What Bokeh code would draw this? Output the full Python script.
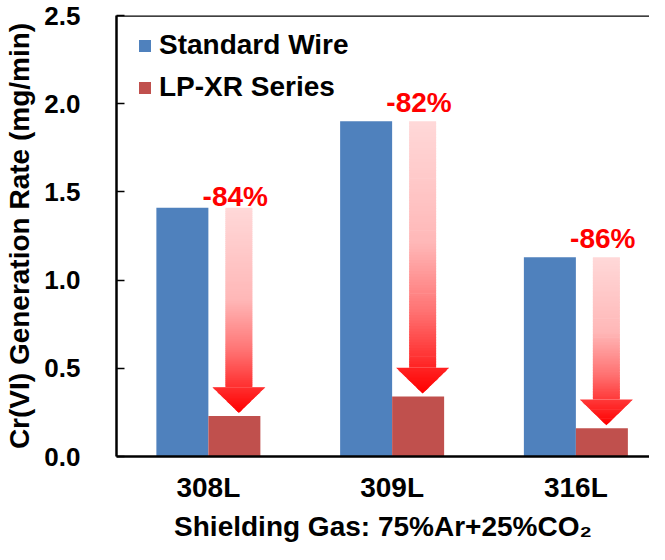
import numpy as np
from bokeh.plotting import figure
from bokeh.models import Range1d, FixedTicker, Span, PrintfTickFormatter
from bokeh.core.properties import value
from bokeh.embed import file_html
from bokeh.resources import INLINE

# ---- data ----
categories = ["308L", "309L", "316L"]
standard_wire = [1.41, 1.90, 1.13]
lp_xr_series = [0.23, 0.34, 0.16]
reduction_labels = ["-84%", "-82%", "-86%"]
y_ticks = [0.0, 0.5, 1.0, 1.5, 2.0, 2.5]
series_names = ["Standard Wire", "LP-XR Series"]
x_axis_title = "Shielding Gas: 75%Ar+25%CO\u2082"
y_axis_title = "Cr(VI) Generation Rate (mg/min)"

# ---- style ----
FONT = "Liberation Sans"
BLUE = "#4F81BD"
RED = "#C0504D"
W, H = 649, 544
BORDER_L, BORDER_T, BORDER_B = 116, 15, 84
FRAME_W = W - BORDER_L
FRAME_H = H - BORDER_T - BORDER_B
PX_X = 183.75                  # px per category
PX_Y = FRAME_H / 2.5           # px per y unit
BAR_W = 52 / PX_X
SHAFT_W = 27 / PX_X
HEAD_W = 53 / PX_X
HEAD_H = 26 / PX_Y
TIP_GAP = 3 / PX_Y
ARROW_DX = 4.5 / PX_X
label_lift_px = [11, 19, 19]

p = figure(width=W, height=H,
           x_range=Range1d(0, FRAME_W / PX_X), y_range=Range1d(0, 2.5),
           output_backend="svg", toolbar_location=None,
           min_border_left=BORDER_L, min_border_right=0,
           min_border_top=BORDER_T, min_border_bottom=BORDER_B)
p.outline_line_color = None
p.xgrid.visible = False
p.ygrid.visible = False
p.background_fill_color = "white"
p.border_fill_color = "white"

xc = np.arange(len(categories)) + 0.5
std = np.array(standard_wire)
lp = np.array(lp_xr_series)

p.vbar(x=xc - BAR_W / 2, top=std, width=BAR_W, bottom=0,
       fill_color=BLUE, line_color=None, legend_label=series_names[0])
p.vbar(x=xc + BAR_W / 2, top=lp, width=BAR_W, bottom=0,
       fill_color=RED, line_color=None, legend_label=series_names[1])

# ---- gradient arrows (sliced) ----
stops_t = [0.0, 0.45, 0.70, 0.90, 1.0]
stops_w = [0.85, 0.72, 0.45, 0.15, 0.0]


def grad_color(t):
    w = float(np.interp(t, stops_t, stops_w))
    g = int(round(255 * w))
    return "#%02x%02x%02x" % (255, g, g)


ql, qr, qt, qb, qc = [], [], [], [], []
hx, hy, hc = [], [], []
N_SHAFT = 90
N_HEAD = 20
ov = 0.004
for i in range(len(categories)):
    cx = xc[i] + BAR_W / 2 + ARROW_DX
    top = std[i]
    tip = lp[i] + TIP_GAP
    htop = tip + HEAD_H
    total = top - tip
    edges = np.linspace(top, htop, N_SHAFT + 1)
    for k in range(N_SHAFT):
        y1, y0 = edges[k], edges[k + 1]
        t = (top - (y0 + y1) / 2) / total
        ql.append(cx - SHAFT_W / 2)
        qr.append(cx + SHAFT_W / 2)
        qt.append(min(top, y1 + ov))
        qb.append(y0)
        qc.append(grad_color(t))
    hedges = np.linspace(htop, tip, N_HEAD + 1)
    for k in range(N_HEAD):
        y1, y0 = hedges[k], hedges[k + 1]
        w0 = HEAD_W / 2 * (y0 - tip) / HEAD_H
        y1e = min(htop, y1 + ov)
        w1e = HEAD_W / 2 * (y1e - tip) / HEAD_H
        t = (top - (y0 + y1) / 2) / total
        hx.append([cx - w1e, cx + w1e, cx + w0, cx - w0])
        hy.append([y1e, y1e, y0, y0])
        hc.append(grad_color(t))

p.quad(left=ql, right=qr, top=qt, bottom=qb, fill_color=qc, line_color=None)
p.patches(xs=hx, ys=hy, fill_color=hc, line_color=None)

# ---- reduction labels ----
p.text(x=list(xc + BAR_W / 2 + 0.005), y=list(std), text=reduction_labels,
       y_offset=[-v for v in label_lift_px],
       text_align="center", text_baseline="alphabetic",
       text_font=value(FONT), text_font_style="bold",
       text_font_size="28px", text_color="#FF0000")

# top border line
p.add_layout(Span(location=2.5, dimension="width", line_color="black", line_width=2.5))

# ---- axes ----
p.xaxis.ticker = FixedTicker(ticks=list(xc))
p.xaxis.major_label_overrides = {float(v): c for v, c in zip(xc, categories)}
p.xaxis.major_tick_in = 0
p.xaxis.major_tick_out = 0
p.xaxis.minor_tick_line_color = None
p.xaxis.axis_line_width = 2.5
p.xaxis.axis_line_color = "black"
p.xaxis.major_label_text_font = FONT
p.xaxis.major_label_text_font_style = "bold"
p.xaxis.major_label_text_font_size = "28px"
p.xaxis.major_label_text_color = "black"
p.xaxis.major_label_standoff = 15
p.xaxis.axis_label = x_axis_title
p.xaxis.axis_label_text_font = FONT
p.xaxis.axis_label_text_font_style = "bold"
p.xaxis.axis_label_text_font_size = "28px"
p.xaxis.axis_label_text_color = "black"
p.xaxis.axis_label_standoff = 5

p.yaxis.ticker = FixedTicker(ticks=y_ticks)
p.yaxis.formatter = PrintfTickFormatter(format="%.1f")
p.yaxis.major_tick_in = 8
p.yaxis.major_tick_out = 0
p.yaxis.major_tick_line_width = 1.5
p.yaxis.major_tick_line_color = "black"
p.yaxis.minor_tick_line_color = None
p.yaxis.axis_line_width = 2.5
p.yaxis.axis_line_color = "black"
p.yaxis.major_label_text_font = FONT
p.yaxis.major_label_text_font_style = "bold"
p.yaxis.major_label_text_font_size = "26px"
p.yaxis.major_label_text_color = "black"
p.yaxis.major_label_standoff = 36
p.yaxis.axis_label = y_axis_title
p.yaxis.axis_label_text_font = FONT
p.yaxis.axis_label_text_font_style = "bold"
p.yaxis.axis_label_text_font_size = "28px"
p.yaxis.axis_label_text_color = "black"
p.yaxis.axis_label_standoff = 6

# ---- legend ----
lg = p.legend[0]
lg.location = (21, 353)
lg.padding = 0
lg.margin = 0
lg.spacing = 10
lg.border_line_color = None
lg.background_fill_alpha = 0
lg.glyph_width = 15
lg.glyph_height = 15
lg.label_standoff = 7
lg.label_text_font = FONT
lg.label_text_font_style = "bold"
lg.label_text_font_size = "28px"
lg.label_text_color = "black"

open("out.html", "w").write(file_html(p, INLINE))
